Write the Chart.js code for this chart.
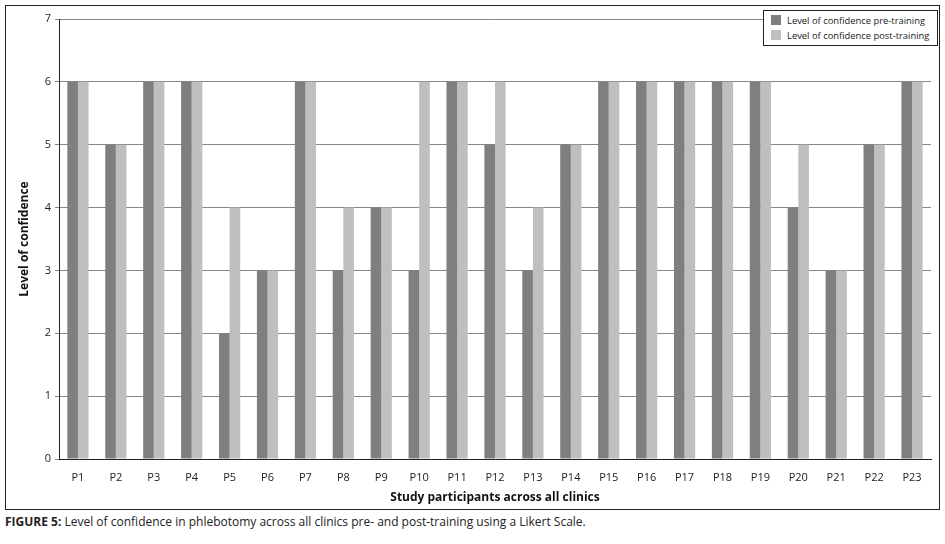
<!DOCTYPE html>
<html>
<head>
<meta charset="utf-8">
<script src="https://cdn.jsdelivr.net/npm/chart.js@4"></script>
<style>
  body { margin:0; background:#fff; width:945px; height:544px; position:relative; font-family:"Open Sans", Lato, sans-serif; }
  #frame { position:absolute; left:5px; top:5px; width:933px; height:503px; border:1px solid #222; }
  #wrap { position:absolute; left:0; top:0; width:933px; height:503px; }
  #legend { position:absolute; left:757px; top:4px; width:173px; height:34px; border:1px solid #222; background:#fff; font-size:9.4px; color:#222; }
  #legend div { position:absolute; left:7px; height:12px; line-height:12px; white-space:nowrap; }
  #legend span { display:inline-block; width:10px; height:10px; margin-right:6px; vertical-align:-1px; }
  #caption { position:absolute; left:5px; top:513px; font-size:12px; color:#222; }
</style>
</head>
<body>
<div id="frame">
  <div id="wrap"><canvas id="chart"></canvas></div>
  <div id="legend">
    <div style="top:4px"><span style="background:#7f7f80"></span>Level of confidence pre-training</div>
    <div style="top:19px"><span style="background:#bfbfbf"></span>Level of confidence post-training</div>
  </div>
</div>
<div id="caption"><b>FIGURE 5:</b> Level of confidence in phlebotomy across all clinics pre- and post-training using a Likert Scale.</div>
<script>
// participants and Likert scores
const participants = ['P1','P2','P3','P4','P5','P6','P7','P8','P9','P10','P11','P12','P13','P14','P15','P16','P17','P18','P19','P20','P21','P22','P23'];
const preTraining  = [6,5,6,6,2,3,6,3,4,3,6,5,3,5,6,6,6,6,6,4,3,5,6];
const postTraining = [6,5,6,6,4,3,6,4,4,6,6,6,4,5,6,6,6,6,6,5,3,5,6];

const font = {family:'"Open Sans", Lato, sans-serif', size:11};

new Chart(document.getElementById('chart'), {
  type:'bar',
  data:{
    labels: participants,
    datasets:[
      {label:'Level of confidence pre-training', data:preTraining, backgroundColor:'#7f7f80'},
      {label:'Level of confidence post-training', data:postTraining, backgroundColor:'#bfbfbf'}
    ]
  },
  options:{
    responsive:true, maintainAspectRatio:false, animation:false,
    layout:{padding:{top:13, right:8, left:0, bottom:0}},
    datasets:{bar:{categoryPercentage:0.56, barPercentage:1.0}},
    plugins:{legend:{display:false}, tooltip:{enabled:false}},
    scales:{
      x:{
        grid:{display:false},
        border:{display:true, color:'#222', width:1},
        ticks:{color:'#222', font:font, padding:4, maxRotation:0},
        title:{display:true, text:'Study participants across all clinics', color:'#111',
               font:{family:font.family, size:12, weight:'bold'}, padding:{top:9}},
        afterFit: s => { s.height = 50; }
      },
      y:{
        min:0, max:7,
        ticks:{stepSize:1, color:'#222', font:font, padding:4},
        grid:{color:'#878787', tickLength:4, drawTicks:true},
        border:{color:'#222', width:1},
        title:{display:true, text:'Level of confidence', color:'#111',
               font:{family:font.family, size:12, weight:'bold'}, padding:{top:11, bottom:0}},
        afterFit: s => { s.width = 53; }
      }
    }
  }
});
</script>
</body>
</html>
